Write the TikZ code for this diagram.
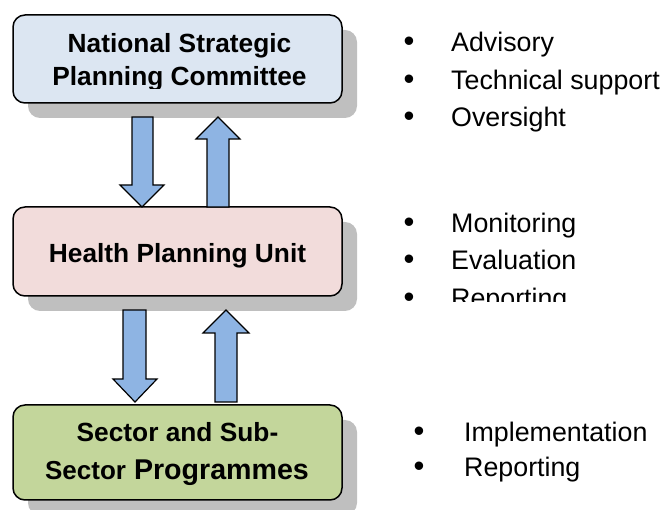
\documentclass[tikz,border=0pt]{standalone}
\usepackage{fontspec}
\setmainfont{Liberation Sans}
\definecolor{shadowgray}{HTML}{BFBFBF}
\definecolor{boxblue}{HTML}{DCE6F2}
\definecolor{boxpink}{HTML}{F2DCDB}
\definecolor{boxgreen}{HTML}{C3D69B}
\definecolor{arrowblue}{HTML}{8EB4E3}
\tikzset{
  levelbox/.style={draw=black, line width=1.5pt, rounded corners=12pt, minimum width=329pt, inner sep=0pt},
  boxshadow/.style={fill=shadowgray, rounded corners=12pt},
  boxtext/.style={anchor=base, inner sep=0pt, font=\fontsize{26.3}{30}\selectfont\bfseries},
  itemtext/.style={anchor=base west, inner sep=0pt, font=\fontsize{26.8}{30}\selectfont},
  itembullet/.style={anchor=base, inner sep=0pt, font=\fontsize{31}{30}\selectfont},
  blockarrow/.style={fill=arrowblue, draw=black, line width=1.2pt, line join=miter}
}
\begin{document}
\begin{tikzpicture}[x=1pt, y=-1pt]
\useasboundingbox (0,0) rectangle (662,510);
\clip (0,0) rectangle (662,510);
% shadows
\fill[boxshadow] (28,30) rectangle (357,118);
\fill[boxshadow] (28,222) rectangle (357,311);
\fill[boxshadow] (28,420) rectangle (357,515);
% boxes
\node[levelbox, fill=boxblue, minimum height=88pt] (nspc) at (177.5,59) {};
\node[levelbox, fill=boxpink, minimum height=89pt] (hpu) at (177.5,251.5) {};
\node[levelbox, fill=boxgreen, minimum height=95pt] (ssp) at (177.5,452.5) {};
% box texts
\begin{scope}
\clip (13,15) rectangle (342,88.5);
\node[boxtext] (t1a) at (179.5,53) {National Strategic};
\node[boxtext] (t1b) at (179.5,86) {Planning Committee};
\end{scope}
\node[boxtext] (t2) at (177.5,262.5) {Health Planning Unit};
\node[boxtext] (t3a) at (177.5,442) {Sector and Sub-};
\node[anchor=base, inner sep=0pt] (t3b) at (177,480) {\fontsize{26}{30}\selectfont\bfseries Sector\fontsize{28.6}{30}\selectfont\ Programmes};
% arrows between nspc and hpu
\draw[blockarrow] (132,117) -- (153,117) -- (153,185) -- (164,185) -- (142,207) -- (120,185) -- (132,185) -- cycle;
\draw[blockarrow] (207,207) -- (207,139) -- (196,139) -- (218,117) -- (240,139) -- (229,139) -- (229,207) -- cycle;
% arrows between hpu and ssp
\draw[blockarrow] (123,310) -- (146,310) -- (146,379) -- (157,379) -- (135,402) -- (113,379) -- (123,379) -- cycle;
\draw[blockarrow] (215,402) -- (215,333) -- (203,333) -- (226,310) -- (249,333) -- (237,333) -- (237,402) -- cycle;
% bullet lists
\node[itembullet] (b1) at (409,52) {•};
\node[itemtext] (l1) at (451,52) {Advisory};
\node[itembullet] (b2) at (409,90) {•};
\node[itemtext] (l2) at (451,90) {Technical support};
\node[itembullet] (b3) at (409,127) {•};
\node[itemtext] (l3) at (451,127) {Oversight};
\node[itembullet] (b4) at (409,233) {•};
\node[itemtext] (l4) at (451,233) {Monitoring};
\node[itembullet] (b5) at (409,270) {•};
\node[itemtext] (l5) at (451,270) {Evaluation};
\begin{scope}
\clip (380,280) rectangle (662,302);
\node[itembullet] (b6) at (409,308) {•};
\node[itemtext] (l6) at (451,308) {Reporting};
\end{scope}
\node[itembullet] (b7) at (419,442) {•};
\node[itemtext] (l7) at (464,442) {Implementation};
\node[itembullet] (b8) at (419,477) {•};
\node[itemtext] (l8) at (464,477) {Reporting};
\end{tikzpicture}
\end{document}
